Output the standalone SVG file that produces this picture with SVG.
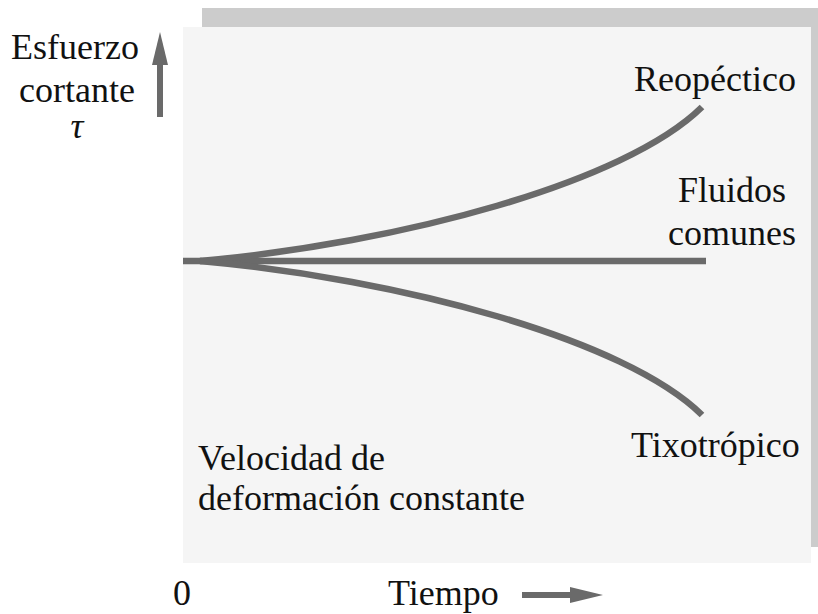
<svg xmlns="http://www.w3.org/2000/svg" width="818" height="614" viewBox="0 0 818 614">
<style>
.t{font-family:'Liberation Serif','Times New Roman',serif;font-size:36px;fill:#111;}
.c{fill:none;stroke:#6a6a6a;stroke-width:6.5;stroke-linecap:butt;}
.ar{fill:#6a6a6a;}
</style>
<rect width="818" height="614" fill="#ffffff"/>
<g id="panel">
<rect x="202" y="8" width="616" height="539" fill="#cccccc"/>
<rect x="183" y="27" width="628" height="536" fill="#f5f5f5"/>
</g>
<g id="connectors">
<path id="fluidos-line" class="c" d="M183,261 L706,261"/>
<path id="reopectico-curve" class="c" d="M200,261 C400,243 625,183 702,107"/>
<path id="tixotropico-curve" class="c" d="M200,261 C400,279 625,339 702,415"/>
</g>
<g id="y-axis">
<rect class="ar" x="157" y="62" width="6" height="55"/>
<polygon class="ar" points="160,32 168,65 152,65"/>
<text class="t" x="11" y="59">Esfuerzo</text>
<text class="t" x="19" y="102">cortante</text>
<text class="t" x="77" y="138" text-anchor="middle" font-style="italic">τ</text>
</g>
<g id="x-axis">
<text class="t" x="173" y="605">0</text>
<text class="t" x="388" y="605">Tiempo</text>
<rect class="ar" x="522" y="592" width="50" height="6"/>
<polygon class="ar" points="603,595 570,587 570,603"/>
</g>
<g id="label-reopectico">
<text class="t" x="634" y="91">Reopéctico</text>
</g>
<g id="label-fluidos">
<text class="t" x="678" y="202">Fluidos</text>
<text class="t" x="668" y="245">comunes</text>
</g>
<g id="label-tixotropico">
<text class="t" x="631" y="457">Tixotrópico</text>
</g>
<g id="label-velocidad">
<text class="t" x="198" y="470">Velocidad de</text>
<text class="t" x="198" y="510">deformación constante</text>
</g>
</svg>
